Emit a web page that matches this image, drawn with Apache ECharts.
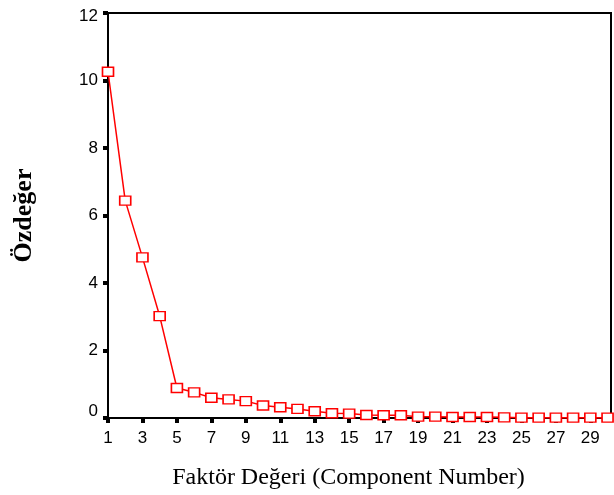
<!DOCTYPE html>
<html>
<head>
<meta charset="utf-8">
<script src="https://cdn.jsdelivr.net/npm/echarts@6/dist/echarts.min.js"></script>
<style>
html,body{margin:0;padding:0;background:#fff;}
#chart{width:614px;height:495px;}
</style>
</head>
<body>
<div id="chart"></div>
<script>
var components = [1,2,3,4,5,6,7,8,9,10,11,12,13,14,15,16,17,18,19,20,21,22,23,24,25,26,27,28,29,30];
var eigenvalues = [10.26,6.44,4.76,3.02,0.89,0.76,0.60,0.55,0.50,0.37,0.32,0.27,0.20,0.14,0.13,0.09,0.08,0.08,0.04,0.04,0.03,0.03,0.03,0.02,0.01,0.01,0.01,0.01,0.01,0.01];
var xTickValues = [1,3,5,7,9,11,13,15,17,19,21,23,25,27,29];
var yTickLabels = [0,2,4,6,8,10,12];

var chart = echarts.init(document.getElementById('chart'));
var pts = components.map(function(c,i){return [c, eigenvalues[i]];});
chart.setOption({
  animation:false,
  grid:{left:108, top:13, right:3, bottom:72, show:true, borderColor:'#000', borderWidth:2, backgroundColor:'transparent'},
  xAxis:{
    type:'value', min:1, max:30.2,
    name:'Faktör Değeri (Component Number)', nameLocation:'middle', nameGap:48,
    nameTextStyle:{fontFamily:'Liberation Serif', fontSize:24, color:'#000', padding:[0,22,0,0]},
    axisLine:{show:true, onZero:false, lineStyle:{color:'#000', width:2}},
    axisTick:{show:true, length:5, lineStyle:{color:'#000', width:4}, customValues:xTickValues},
    axisLabel:{fontFamily:'Liberation Sans', fontSize:17, color:'#000', margin:12, customValues:xTickValues, hideOverlap:false},
    splitLine:{show:false}
  },
  yAxis:{
    type:'value', min:0, max:12, interval:2,
    name:'Özdeğer', nameLocation:'middle', nameGap:71, nameRotate:90,
    nameTextStyle:{fontFamily:'Liberation Serif', fontSize:26, fontWeight:'bold', color:'#000'},
    axisLine:{show:true, lineStyle:{color:'#000', width:2}},
    axisTick:{show:true, length:5, lineStyle:{color:'#000', width:4}},
    axisLabel:{fontFamily:'Liberation Sans', fontSize:17, color:'#000', margin:10,
      formatter:function(v){
        if (yTickLabels.indexOf(v) < 0) return '';
        if (v === 0) return '{lo|' + v + '}';
        if (v === 12) return '{hi|' + v + '}';
        return String(v);
      },
      rich:{
        lo:{fontFamily:'Liberation Sans', fontSize:17, color:'#000', padding:[0,0,14,0]},
        hi:{fontFamily:'Liberation Sans', fontSize:17, color:'#000', padding:[6,0,0,0]}
      }
    },
    splitLine:{show:false}
  },
  series:[{
    type:'line', data:pts,
    symbol:'rect', symbolSize:[11,9], showAllSymbol:true,
    lineStyle:{color:'#ff0000', width:1.5},
    itemStyle:{color:'#fff', borderColor:'#ff0000', borderWidth:1.5},
    clip:false, z:5
  }]
});
</script>
</body>
</html>
